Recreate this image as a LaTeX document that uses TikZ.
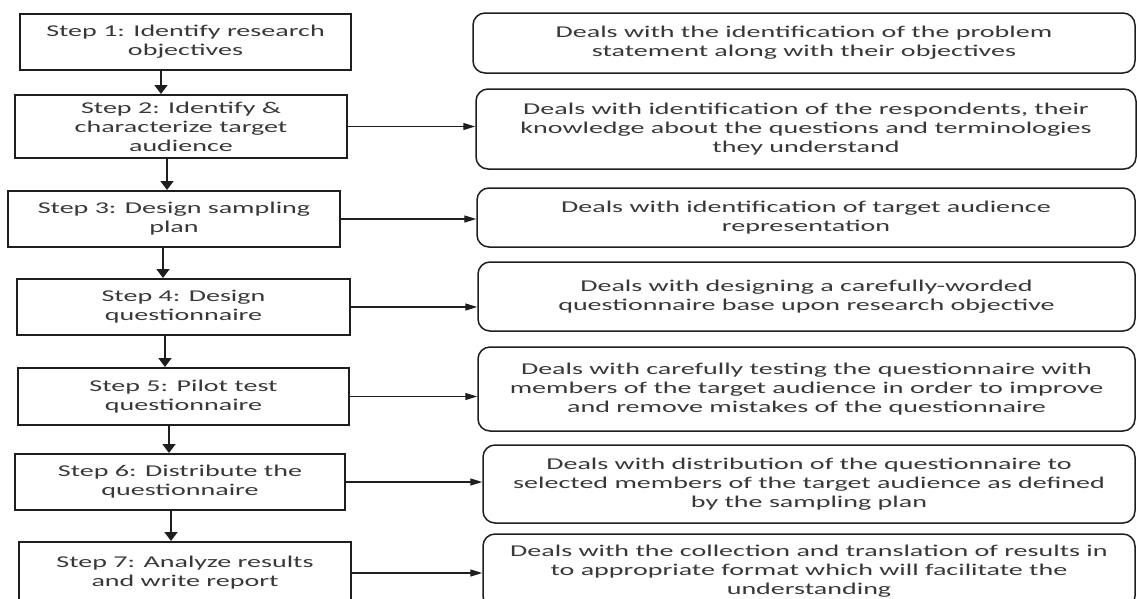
\documentclass[tikz,border=0pt]{standalone}
\usepackage{fontspec}
\setmainfont{Carlito}[FakeStretch=1.7]
\usetikzlibrary{arrows.meta, positioning}
\definecolor{boxline}{HTML}{1E1E1E}
\definecolor{stepgray}{HTML}{383838}

\begin{document}
\begin{tikzpicture}[
    x=1pt, y=-1pt,
    font=\fontsize{16.5}{19}\selectfont,
    stepbox/.style={rectangle, draw=boxline, line width=2pt, fill=white,
                    align=center, text=stepgray, inner sep=2pt},
    notebox/.style={rectangle, rounded corners=12pt, draw=boxline, line width=1.5pt,
                    fill=white, align=center, text=stepgray, inner sep=2pt},
    down/.style={-{Triangle[length=9pt, width=13pt]}, line width=1.6pt, draw=boxline},
    side/.style={-{Triangle[length=12pt, width=7pt]}, line width=1.4pt, draw=boxline}
  ]
    \useasboundingbox (0,0) rectangle (1137,598);

    % Steps on the left
    \node[stepbox, minimum width=331pt, minimum height=56pt] (b1) at (185.5, 42)
      {Step 1: Identify research\\objectives};
    \node[stepbox, minimum width=332pt, minimum height=63pt] (b2) at (181, 126.5)
      {Step 2: Identify \&\\characterize target\\audience};
    \node[stepbox, minimum width=332pt, minimum height=56pt] (b3) at (174, 219)
      {Step 3: Design sampling\\plan};
    \node[stepbox, minimum width=333pt, minimum height=56pt] (b4) at (183.5, 307)
      {Step 4: Design\\questionnaire};
    \node[stepbox, minimum width=331pt, minimum height=57pt] (b5) at (183.5, 396.5)
      {Step 5: Pilot test\\questionnaire};
    \node[stepbox, minimum width=330pt, minimum height=56pt] (b6) at (180, 482)
      {Step 6: Distribute the\\questionnaire};
    \node[stepbox, minimum width=332pt, minimum height=62pt] (b7) at (185, 573)
      {Step 7: Analyze results\\and write report};

    % Descriptions on the right
    \node[notebox, minimum width=662pt, minimum height=60pt] (r1) at (804, 43)
      {Deals with the identification of the problem\\statement along with their objectives};
    \node[notebox, minimum width=660pt, minimum height=80pt] (r2) at (806, 129)
      {Deals with identification of the respondents, their\\knowledge about the questions and terminologies\\they understand};
    \node[notebox, minimum width=658pt, minimum height=59pt] (r3) at (806, 217.5)
      {Deals with identification of target audience\\representation};
    \node[notebox, minimum width=657pt, minimum height=69pt] (r4) at (806.5, 296.5)
      {Deals with designing a carefully-worded\\questionnaire base upon research objective};
    \node[notebox, minimum width=657pt, minimum height=84pt] (r5) at (806.5, 389)
      {Deals with carefully testing the questionnaire with\\members of the target audience in order to improve\\and remove mistakes of the questionnaire};
    \node[notebox, minimum width=652pt, minimum height=78pt] (r6) at (809, 484)
      {Deals with distribution of the questionnaire to\\selected members of the target audience as defined\\by the sampling plan};
    \node[notebox, minimum width=652pt, minimum height=74pt] (r7) at (809, 571)
      {Deals with the collection and translation of results in\\to appropriate format which will facilitate the\\understanding};

    % Flow between the steps
    \draw[down] (b1.south -| 161,0) -- (b2.north -| 161,0);
    \draw[down] (b2.south -| 167,0) -- (b3.north -| 167,0);
    \draw[down] (b3.south -| 163,0) -- (b4.north -| 163,0);
    \draw[down] (b4.south -| 165,0) -- (b5.north -| 165,0);
    \draw[down] (b5.south -| 169,0) -- (b6.north -| 169,0);
    \draw[down] (b6.south -| 171,0) -- (b7.north -| 171,0);

    % Step to description
    \draw[side] (b2.east) -- (r2.west |- b2.east);
    \draw[side] (b3.east) -- (r3.west |- b3.east);
    \draw[side] (b4.east) -- (r4.west |- b4.east);
    \draw[side] (b5.east) -- (r5.west |- b5.east);
    \draw[side] (b6.east) -- (r6.west |- b6.east);
    \draw[side] (b7.east) -- (r7.west |- b7.east);
  \end{tikzpicture}
\end{document}
